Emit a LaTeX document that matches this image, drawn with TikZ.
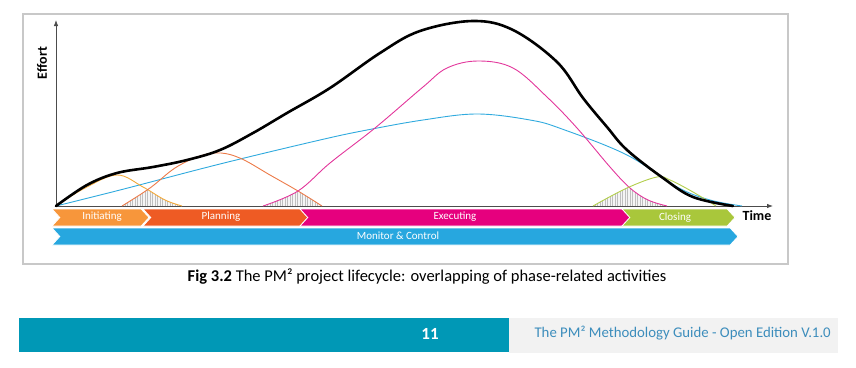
\documentclass[tikz,border=0pt]{standalone}
\usepackage{fontspec}
\setmainfont{Carlito}
\usetikzlibrary{shapes.symbols,arrows.meta}

\definecolor{initcol}{HTML}{F7963B}
\definecolor{plancol}{HTML}{EE5B24}
\definecolor{execcol}{HTML}{E6007E}
\definecolor{closecol}{HTML}{A9C73B}
\definecolor{moncol}{HTML}{27A7DF}
\definecolor{initline}{HTML}{F2A838}
\definecolor{planline}{HTML}{EC7A48}
\definecolor{execline}{HTML}{E2369B}
\definecolor{closeline}{HTML}{B3CE4C}
\definecolor{monline}{HTML}{30AADE}
\definecolor{framecol}{HTML}{C8C8C8}
\definecolor{footcol}{HTML}{0098B6}
\definecolor{footgray}{HTML}{F2F2F2}
\definecolor{foottext}{HTML}{3C8DBC}

% effort curves of the phases
\def\initcurve{plot[smooth,tension=0.6] coordinates {(56,206) (85,188) (117,175) (143,187) (165,200) (182,206)}}
\def\plancurve{plot[smooth,tension=0.6] coordinates {(122,206) (150,188) (175,168) (200,156) (221,153) (242,159) (270,175) (298,191) (322,206)}}
\def\execcurve{plot[smooth,tension=0.6] coordinates {(263,206) (298,191) (330,163) (375,128) (423,87) (447,68) (478,61) (513,68) (547,97) (577,128) (610,167) (630,188) (648,200) (667,206)}}
\def\closecurve{plot[smooth,tension=0.6] coordinates {(593,206) (627,188) (657,177) (670,180) (693,192) (716,206)}}

\begin{document}
\begin{tikzpicture}[x=1pt, y=-1pt, text height=1.5ex, text depth=0.25ex,
		phase/.style={signal, signal to=east, signal from=west, signal pointer angle=95, minimum height=17pt, inner sep=0pt, draw=white, line width=0.8pt},
		phasetext/.style={text=white, font=\fontsize{11}{12}\selectfont},
		activity/.style={line width=0.9pt, line join=round},
		effort/.style={line width=2.6pt, line cap=round, line join=round},
		hatchline/.style={gray!50, line width=0.5pt},
		axislabel/.style={font=\bfseries\fontsize{14}{15}\selectfont}]
	\useasboundingbox (0,0) rectangle (856,367);
	\draw[framecol, line width=2pt] (23,14) rectangle (788,264);

	% overlaps between phases
	\begin{scope}
		\clip \plancurve -- cycle;
		\clip \initcurve -- cycle;
		\fill[gray!8] (120,150) rectangle (185,206);
		\foreach \x in {120,122.5,...,185} \draw[hatchline] (\x,150) -- (\x,206);
	\end{scope}
	\begin{scope}
		\clip \execcurve -- cycle;
		\clip \plancurve -- cycle;
		\fill[gray!8] (260,150) rectangle (325,206);
		\foreach \x in {260,262.5,...,325} \draw[hatchline] (\x,150) -- (\x,206);
	\end{scope}
	\begin{scope}
		\clip \closecurve -- cycle;
		\clip \execcurve -- cycle;
		\fill[gray!8] (590,150) rectangle (670,206);
		\foreach \x in {590,592.5,...,670} \draw[hatchline] (\x,150) -- (\x,206);
	\end{scope}

	% axes
	\coordinate (origin) at (56,206);
	\coordinate (ytop) at (56,20);
	\coordinate (xend) at (773,206);
	\draw[-{Latex[length=6pt,width=4.5pt]}, black!70, line width=0.8pt] (origin) -- (ytop);
	\draw[-{Latex[length=6pt,width=4.5pt]}, black!70, line width=0.8pt] (origin) -- (xend);
	\node (effortlbl) [axislabel, rotate=90] at (44,63) {Effort};
	\node (timelbl) [axislabel] at (757,218) {Time};

	\draw[activity, monline] plot[smooth,tension=0.6] coordinates {(56,206) (120,190) (220,164) (320,140) (367,130) (423,120) (477,114) (530,120) (562,129) (627,155) (677,187) (710,200) (742,206)};
	\draw[activity, initline] \initcurve;
	\draw[activity, planline] \plancurve;
	\draw[activity, execline] \execcurve;
	\draw[activity, closeline] \closecurve;
	\draw[effort] plot[smooth,tension=0.6] coordinates {(56,206) (87,185) (117,173) (153,167) (187,160) (220,150) (253,133) (287,113) (330,88) (380,53) (420,31) (473,21) (513,30) (557,62) (583,98) (607,127) (627,150) (663,178) (693,197) (733,206)};

	% phases
	\node (init) [phase, fill=initcol, minimum width=97pt] at (100.5,217.5) {};
	\node (plan) [phase, fill=plancol, minimum width=165pt] at (225.5,217.5) {};
	\node (exec) [phase, fill=execcol, minimum width=331pt] at (465.5,217.5) {};
	\node (close) [phase, fill=closecol, minimum width=113pt] at (678.5,217.5) {};
	\node (monitor) [phase, fill=moncol, minimum width=686pt] at (395,236.5) {};
	\node (inittext) [phasetext] at (102,216.5) {Initiating};
	\node (plantext) [phasetext] at (221,216.5) {Planning};
	\node (exectext) [phasetext] at (455,216.5) {Executing};
	\node (closetext) [phasetext] at (675,217.5) {Closing};
	\node (montext) [phasetext] at (398,236.5) {Monitor \& Control};

	\node (caption) [font=\fontsize{16.5}{18}\selectfont] at (427,279) {\textbf{Fig 3.2} The PM² project lifecycle: overlapping of phase-related activities};

	% footer
	\fill[footcol] (19,318) rectangle (509,352);
	\fill[footgray] (509,318) rectangle (838,353);
	\node (pagenum) [white, font=\bfseries\fontsize{17}{18}\selectfont] at (430,337) {11};
	\node (guide) [foottext, anchor=west, font=\fontsize{14.8}{16}\selectfont] at (531,335) {The PM² Methodology Guide - Open Edition V.1.0};
\end{tikzpicture}
\end{document}
